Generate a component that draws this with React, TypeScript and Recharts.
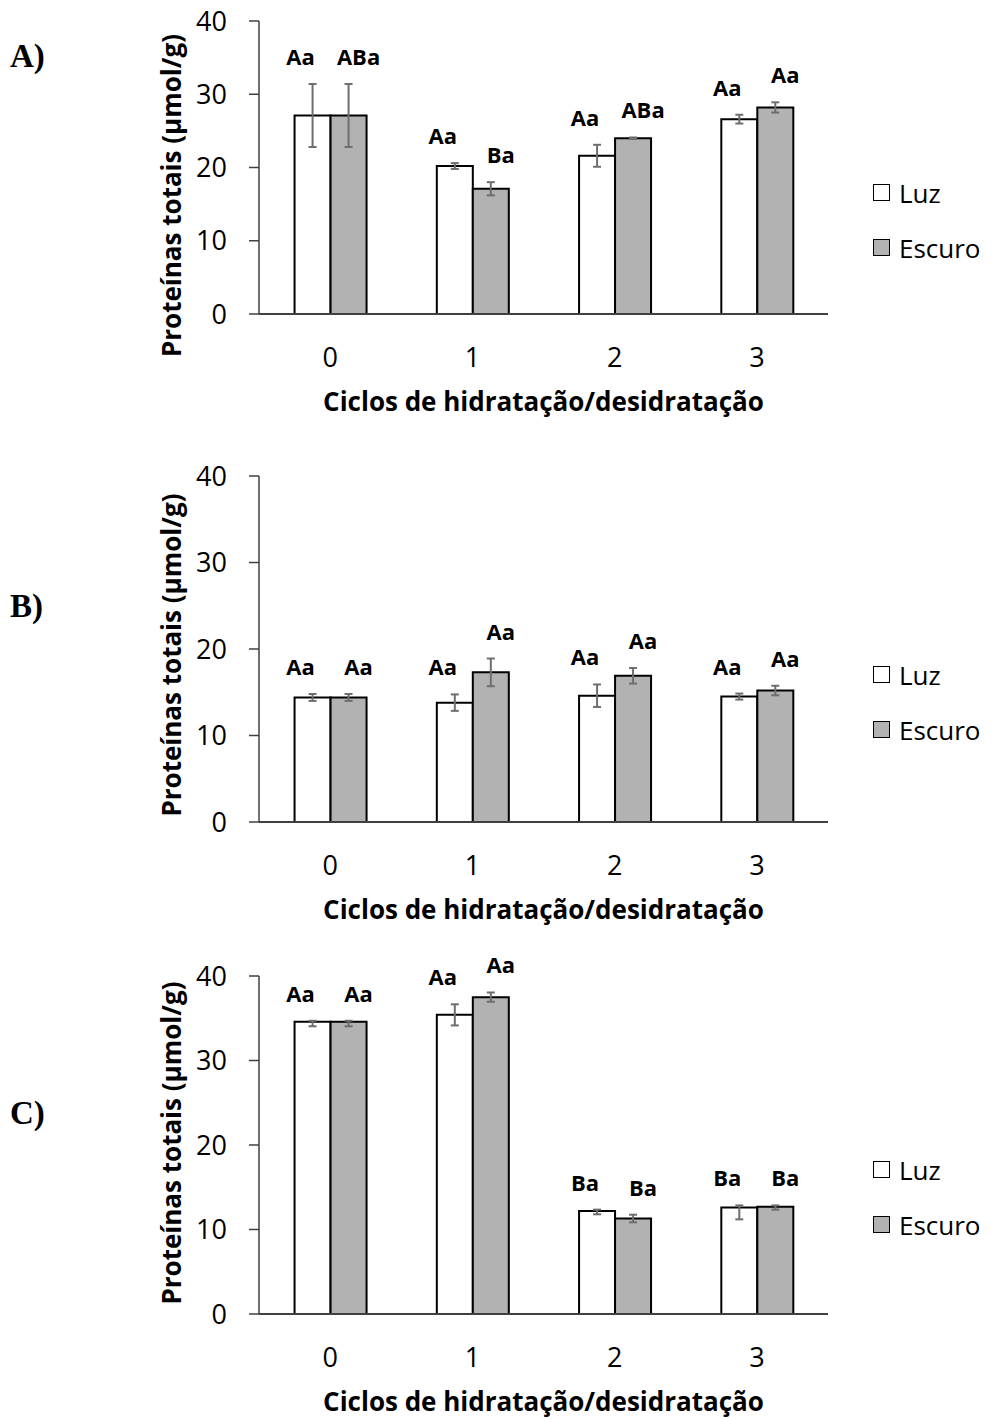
import React from "react";
import {
    BarChart,
    Bar,
    XAxis,
    YAxis,
    ErrorBar,
    LabelList,
    Legend
} from 'recharts';

type Err = number | [number, number];

const categories = ['0', '1', '2', '3'];
const yTicks = [0, 10, 20, 30, 40];
const seriesOrder = ['Luz', 'Escuro'];

// painel A
const luzA = [27.1, 20.2, 21.6, 26.6];
const escuroA = [27.1, 17.1, 24.0, 28.2];
const luzErrA: Err[] = [4.3, 0.4, 1.5, 0.6];
const escuroErrA: Err[] = [4.3, 0.9, 0.1, 0.7];
const luzLabA = ['Aa', 'Aa', 'Aa', 'Aa'];
const escuroLabA = ['ABa', 'Ba', 'ABa', 'Aa'];

// painel B
const luzB = [14.4, 13.8, 14.6, 14.5];
const escuroB = [14.4, 17.3, 16.9, 15.2];
const luzErrB: Err[] = [0.4, 0.95, 1.3, 0.35];
const escuroErrB: Err[] = [0.4, 1.6, 0.9, 0.55];
const luzLabB = ['Aa', 'Aa', 'Aa', 'Aa'];
const escuroLabB = ['Aa', 'Aa', 'Aa', 'Aa'];

// painel C
const luzC = [34.6, 35.4, 12.2, 12.6];
const escuroC = [34.6, 37.5, 11.3, 12.7];
const luzErrC: Err[] = [[0.55, 0.1], 1.25, [0.4, 0.15], [1.4, 0.25]];
const escuroErrC: Err[] = [[0.55, 0.1], 0.55, 0.45, [0.35, 0.15]];
const luzLabC = ['Aa', 'Aa', 'Ba', 'Ba'];
const escuroLabC = ['Aa', 'Aa', 'Ba', 'Ba'];

const FONT = '"Open Sans", sans-serif';
const hi = (e: Err) => (Array.isArray(e) ? e[1] : e);
const errPair = (e: Err): [number, number] => (Array.isArray(e) ? e : [e, e]);

const makeLabel = (vals: number[], errs: Err[], dx: number) => (props: any) => {
    const vb = props.viewBox || props;
    const x = vb.x ?? props.x;
    const y = vb.y ?? props.y;
    const w = vb.width ?? props.width;
    const h = vb.height ?? props.height;
    const i = props.index;
    const top = Math.min(y, y + h);
    const unit = Math.abs(h) / vals[i];
    const errTop = top - hi(errs[i]) * unit;
    return (
        <text x={x + w / 2 + dx} y={errTop - 28} textAnchor="middle" dominantBaseline="central"
            fontFamily={FONT} fontWeight="bold" fontSize={22} fill="#000">{props.value}</text>
    );
};

const XTick = (props: any) => {
    const { x, y, payload } = props;
    return <text x={x} y={y + 42} textAnchor="middle" dominantBaseline="central"
        fontFamily={FONT} fontSize={27} fill="#000">{payload.value}</text>;
};

const XTitle = (props: any) => {
    const vb = props.viewBox;
    return <text x={vb.x + vb.width / 2} y={vb.y + 87} textAnchor="middle" dominantBaseline="central"
        fontFamily={FONT} fontWeight="bold" fontSize={26} fill="#000">Ciclos de hidratação/desidratação</text>;
};

const YTitle = (props: any) => {
    const vb = props.viewBox;
    const cx = 171;
    const cy = vb.y + vb.height / 2 + props.shift;
    return <text x={cx} y={cy} transform={`rotate(-90, ${cx}, ${cy})`} textAnchor="middle" dominantBaseline="central"
        fontFamily={FONT} fontWeight="bold" fontSize={26} fill="#000">Proteínas totais (µmol/g)</text>;
};

const LegendBox = (props: any) => {
    const items = [...props.payload].sort(
        (a: any, b: any) => seriesOrder.indexOf(a.value) - seriesOrder.indexOf(b.value)
    );
    return (
        <div style={{ fontFamily: FONT, fontSize: 26, color: '#000' }}>
            {items.map((p: any) => (
                <div key={p.value} style={{ height: 55, display: 'flex', alignItems: 'center' }}>
                    <span style={{
                        display: 'inline-block', width: 15, height: 15, border: '1.5px solid #000',
                        background: p.payload.fill, marginRight: 9
                    }} />
                    <span>{p.value}</span>
                </div>
            ))}
        </div>
    );
};

function Panel(props: any) {
    const { luz, escuro, luzErr, escuroErr, luzLab, escuroLab, top, marginTop, plotH, legendTop, yShift, letter, letterTop } = props;
    const data = categories.map((c, i) => ({
        name: c,
        Luz: luz[i],
        Escuro: escuro[i],
        luzErr: errPair(luzErr[i]),
        escuroErr: errPair(escuroErr[i]),
        luzLbl: luzLab[i],
        escuroLbl: escuroLab[i],
    }));
    const axisH = 104;
    const height = marginTop + plotH + axisH;
    return (
        <div style={{ position: 'absolute', left: 0, top: top, width: 1002, height: height }}>
            <div style={{
                position: 'absolute', left: 10, top: letterTop, fontFamily: '"Liberation Serif", serif',
                fontWeight: 'bold', fontSize: 33, lineHeight: '34px'
            }}>{letter}</div>
            <BarChart width={1002} height={height} data={data} barCategoryGap="25%" barGap={0}
                margin={{ top: marginTop, right: 174, left: 0, bottom: 0 }}>
                <XAxis dataKey="name" height={axisH} tickLine={false} tickSize={0} tickMargin={0}
                    tick={<XTick />} axisLine={{ stroke: '#404040', strokeWidth: 2 }}
                    label={<XTitle />} />
                <YAxis width={259} domain={[0, 40]} ticks={yTicks} interval={0} tickSize={10} tickMargin={22}
                    axisLine={{ stroke: '#404040', strokeWidth: 1.5 }} tickLine={{ stroke: '#404040', strokeWidth: 1.5 }}
                    tick={{ fontFamily: FONT, fontSize: 27, fill: '#000' }}
                    label={<YTitle shift={yShift} />} />
                <Legend layout="vertical" align="center" verticalAlign="middle" content={<LegendBox />}
                    wrapperStyle={{ position: 'absolute', left: 873, top: legendTop, width: 129 }} />
                <Bar dataKey="Luz" fill="#ffffff" stroke="#000" strokeWidth={2} isAnimationActive={false}>
                    <ErrorBar dataKey="luzErr" width={4} stroke="#6e6e6e" strokeWidth={2} />
                    <LabelList dataKey="luzLbl" content={makeLabel(luz, luzErr, -12)} />
                </Bar>
                <Bar dataKey="Escuro" fill="#b2b2b2" stroke="#000" strokeWidth={2} isAnimationActive={false}>
                    <ErrorBar dataKey="escuroErr" width={4} stroke="#6e6e6e" strokeWidth={2} />
                    <LabelList dataKey="escuroLbl" content={makeLabel(escuro, escuroErr, 10)} />
                </Bar>
            </BarChart>
        </div>
    );
}

export default function App() {
    return (
        <div style={{ position: 'absolute', left: 0, top: 0, width: 1002, height: 1419, background: '#fff', overflow: 'hidden' }}>
            <Panel luz={luzA} escuro={escuroA} luzErr={luzErrA} escuroErr={escuroErrA}
                luzLab={luzLabA} escuroLab={escuroLabA}
                top={0} marginTop={21} plotH={293} legendTop={165} yShift={28} letter="A)" letterTop={39} />
            <Panel luz={luzB} escuro={escuroB} luzErr={luzErrB} escuroErr={escuroErrB}
                luzLab={luzLabB} escuroLab={escuroLabB}
                top={446} marginTop={30} plotH={346} legendTop={201} yShift={6} letter="B)" letterTop={143} />
            <Panel luz={luzC} escuro={escuroC} luzErr={luzErrC} escuroErr={escuroErrC}
                luzLab={luzLabC} escuroLab={escuroLabC}
                top={936} marginTop={40} plotH={338} legendTop={206} yShift={-2} letter="C)" letterTop={160} />
        </div>
    );
}
